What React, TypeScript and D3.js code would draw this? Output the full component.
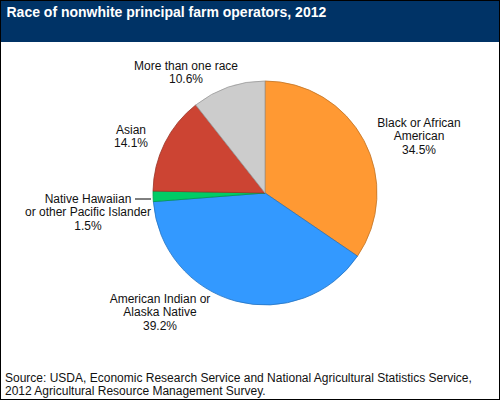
import React from 'react';
import * as d3 from 'd3';

const categories = ['Black or African American', 'American Indian or Alaska Native', 'Native Hawaiian or other Pacific Islander', 'Asian', 'More than one race'];
const shares = [34.5, 39.2, 1.5, 14.1, 10.6];
const colors = ['#ff9933', '#3399ff', '#00cc66', '#cc4433', '#cccccc'];
const labelLines = [
  ['Black or African', 'American', '34.5%'],
  ['American Indian or', 'Alaska Native', '39.2%'],
  ['Native Hawaiian', 'or other Pacific Islander', '1.5%'],
  ['Asian', '14.1%'],
  ['More than one race', '10.6%'],
];
const labelPos = [
  [419, 127],
  [160, 303],
  [88, 203],
  [131, 134],
  [186, 70],
];

const font = 'Arial, "Liberation Sans", sans-serif';

const App: React.FC = () => {
  const cx = 265, cy = 193, r = 112;
  const slices = d3.pie<number>().sort(null)(shares);
  const arc = d3.arc<d3.PieArcDatum<number>>().innerRadius(0).outerRadius(r);

  return (
    <svg width={500} height={400} style={{ position: 'absolute', left: 0, top: 0 }} fontFamily={font}>
      <rect x={0} y={0} width={500} height={400} fill="#fff" />
      <rect x={0} y={0} width={500} height={42} fill="#003366" />
      <text x={6.5} y={17} fontSize={14} fontWeight="bold" fill="#fff">Race of nonwhite principal farm operators, 2012</text>

      <g transform={`translate(${cx},${cy})`}>
        {slices.map((d, i) => (
          <path key={categories[i]} d={arc(d) || ''} fill={colors[i]} stroke={d3.color(colors[i])!.darker(0.8).formatHex()} strokeWidth={0.8} />
        ))}
      </g>

      {labelLines.map((lines, i) => (
        <text key={categories[i]} textAnchor="middle" fontSize={12} fill="#111">
          {lines.map((l, j) => (
            <tspan key={j} x={labelPos[i][0]} y={labelPos[i][1] + j * 13.3}>{l}</tspan>
          ))}
        </text>
      ))}
      <line x1={135} x2={151} y1={199} y2={199} stroke="#000" strokeWidth={1} />

      <text fontSize={12} fill="#111">
        <tspan x={5} y={382}>Source: USDA, Economic Research Service and National Agricultural Statistics Service,</tspan>
        <tspan x={5} y={395}>2012 Agricultural Resource Management Survey.</tspan>
      </text>

      <rect x={0.5} y={0.5} width={499} height={399} fill="none" stroke="#000" strokeWidth={1} />
    </svg>
  );
};

export default App;
